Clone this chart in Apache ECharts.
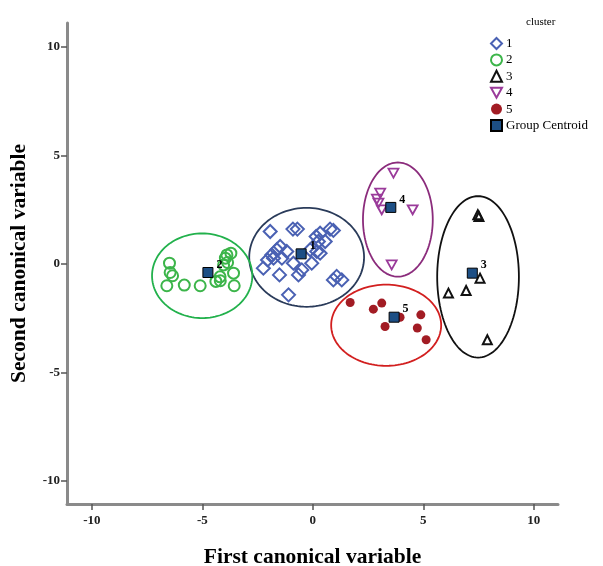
<!DOCTYPE html>
<html><head><meta charset="utf-8">
<script src="https://cdn.jsdelivr.net/npm/echarts@6/dist/echarts.min.js"></script>
<style>html,body{margin:0;padding:0;background:#fff}#c{width:603px;height:566px}</style>
</head><body><div id="c"></div>
<script>
const xTicks = [-10, -5, 0, 5, 10];
const yTicks = [-10, -5, 0, 5, 10];
const cluster1 = [[-1.93,1.49],[-0.90,1.60],[-0.70,1.60],[0.78,1.60],[0.93,1.54],[0.33,1.41],[0.15,1.26],[0.25,1.03],[0.56,1.03],[-1.48,0.80],[-1.63,0.65],[-1.86,0.41],[-2.05,0.18],[-2.24,-0.20],[-1.78,0.26],[-1.40,0.26],[-1.18,0.57],[-0.12,0.65],[0.18,0.57],[0.33,0.49],[-0.88,0.03],[-0.05,0.03],[-0.50,-0.28],[-1.51,-0.51],[-0.65,-0.51],[0.93,-0.74],[1.31,-0.74],[1.08,-0.58],[-1.10,-1.43]];
const cluster2 = [[-6.49,0.03],[-6.46,-0.40],[-6.35,-0.55],[-6.61,-1.01],[-5.82,-0.98],[-5.10,-1.01],[-4.39,-0.81],[-4.19,-0.78],[-3.56,-1.01],[-3.59,-0.43],[-3.89,0.41],[-3.71,0.49],[-3.96,0.26],[-4.04,-0.05],[-3.86,0.06],[-4.20,-0.60]];
const cluster3 = [[7.47,2.26],[7.52,2.18],[7.57,-0.66],[6.14,-1.35],[6.94,-1.23],[7.90,-3.50]];
const cluster4 = [[3.65,4.18],[3.05,3.26],[2.90,2.98],[2.97,2.80],[3.12,2.49],[4.52,2.49],[3.57,-0.05]];
const cluster5 = [[1.69,-1.78],[2.74,-2.09],[3.12,-1.81],[3.27,-2.89],[3.95,-2.46],[4.89,-2.35],[4.73,-2.96],[5.13,-3.50]];
const centroidX = [-0.53, -4.75, 7.22, 3.53, 3.68];
const centroidY = [0.46, -0.40, -0.43, 2.60, -2.46];
const centroidLabels = ['1', '2', '3', '4', '5'];
// ellipse regions: [centerX, centerY, radiusX, radiusY] in data units
const ellipse1 = [-0.28, 0.30, 2.60, 2.28];
const ellipse2 = [-5.01, -0.55, 2.27, 1.95];
const ellipse3 = [7.48, -0.60, 1.85, 3.72];
const ellipse4 = [3.85, 2.04, 1.58, 2.63];
const ellipse5 = [3.32, -2.83, 2.49, 1.87];

const FONT = '"Liberation Serif", "Times New Roman", serif';
const chart = echarts.init(document.getElementById('c'));

function ellipseSeries(e, color) {
  return {
    type: 'custom', silent: true, z: 1,
    data: [e],
    renderItem: function (params, api) {
      const c = api.coord([api.value(0), api.value(1)]);
      const s = api.size([api.value(2), api.value(3)]);
      const pts = [];
      for (let i = 0; i < 120; i++) {
        const a = i / 120 * Math.PI * 2;
        pts.push([c[0] + s[0] * Math.cos(a), c[1] + s[1] * Math.sin(a)]);
      }
      return { type: 'polygon', shape: { points: pts, smooth: 0 },
        style: { fill: 'none', stroke: color, lineWidth: 1.8 } };
    }
  };
}

const hollow = (c, w) => ({ color: 'rgba(255,255,255,0)', borderColor: c, borderWidth: w, opacity: 1 });

chart.setOption({
  animation: false,
  backgroundColor: '#fff',
  grid: { left: 67, right: 45, top: 23, bottom: 62, outerBoundsMode: 'none', containLabel: false },
  xAxis: {
    type: 'value', min: -11.13, max: 11.1,
    name: 'First canonical variable', nameLocation: 'middle', nameGap: 42,
    nameTextStyle: { fontFamily: FONT, fontWeight: 'bold', fontSize: 21.5, color: '#000' },
    axisLine: { onZero: false, lineStyle: { color: '#8a8a8a', width: 3 } },
    axisTick: { show: true, customValues: xTicks, length: 6, lineStyle: { color: '#555', width: 1.5 } },
    axisLabel: { customValues: xTicks, fontFamily: FONT, fontWeight: 'bold', fontSize: 13, color: '#222', margin: 10 },
    splitLine: { show: false }
  },
  yAxis: {
    type: 'value', min: -11.07, max: 11.1,
    name: 'Second canonical variable', nameLocation: 'middle', nameGap: 37,
    nameTextStyle: { fontFamily: FONT, fontWeight: 'bold', fontSize: 21.5, color: '#000' },
    axisLine: { show: true, onZero: false, lineStyle: { color: '#8a8a8a', width: 3 } },
    axisTick: { show: true, customValues: yTicks, length: 6, lineStyle: { color: '#555', width: 1.5 } },
    axisLabel: { customValues: yTicks, fontFamily: FONT, fontWeight: 'bold', fontSize: 13, color: '#222', margin: 7 },
    splitLine: { show: false }
  },
  title: {
    text: 'cluster', left: 521, top: 12,
    textStyle: { fontFamily: FONT, fontSize: 11, fontWeight: 'normal', color: '#000' }
  },
  legend: {
    orient: 'vertical', left: 485, top: 32, itemWidth: 11, itemHeight: 11, itemGap: 3.4,
    textStyle: { fontFamily: FONT, fontSize: 13, color: '#000', padding: [0, 0, 0, -1] },
    data: ['1', '2', '3', '4', '5', 'Group Centroid']
  },
  series: [
    ellipseSeries(ellipse1, '#2a3b5a'),
    ellipseSeries(ellipse2, '#22b14c'),
    ellipseSeries(ellipse3, '#111111'),
    ellipseSeries(ellipse4, '#8b2c7c'),
    ellipseSeries(ellipse5, '#d21f1f'),
    { name: '1', type: 'scatter', z: 3, symbol: 'diamond', symbolSize: 13, data: cluster1, itemStyle: hollow('#4a61b3', 2) },
    { name: '2', type: 'scatter', z: 3, symbol: 'circle', symbolSize: 11, data: cluster2, itemStyle: hollow('#3cb54a', 2) },
    { name: '3', type: 'scatter', z: 3, symbol: 'triangle', symbolSize: 9, data: cluster3, itemStyle: hollow('#111', 2) },
    { name: '4', type: 'scatter', z: 3, symbol: 'path://M0,0 L10,0 L5,9 Z', symbolKeepAspect: true, symbolSize: 10, data: cluster4, itemStyle: hollow('#9a3a9a', 1.8) },
    { name: '5', type: 'scatter', z: 3, symbol: 'circle', symbolSize: 9, data: cluster5, itemStyle: { color: '#a21c24', opacity: 1 } },
    { name: 'Group Centroid', type: 'scatter', z: 4, symbol: 'rect', symbolSize: 10,
      data: centroidX.map((x, i) => ({ value: [x, centroidY[i]], name: centroidLabels[i] })),
      itemStyle: { color: '#1d4f85', borderColor: '#000', borderWidth: 1, opacity: 1 },
      label: { show: true, position: 'right', formatter: '{b}', offset: [-2, -8],
        fontFamily: FONT, fontWeight: 'bold', fontSize: 12, color: '#000' } }
  ]
});
</script></body></html>
